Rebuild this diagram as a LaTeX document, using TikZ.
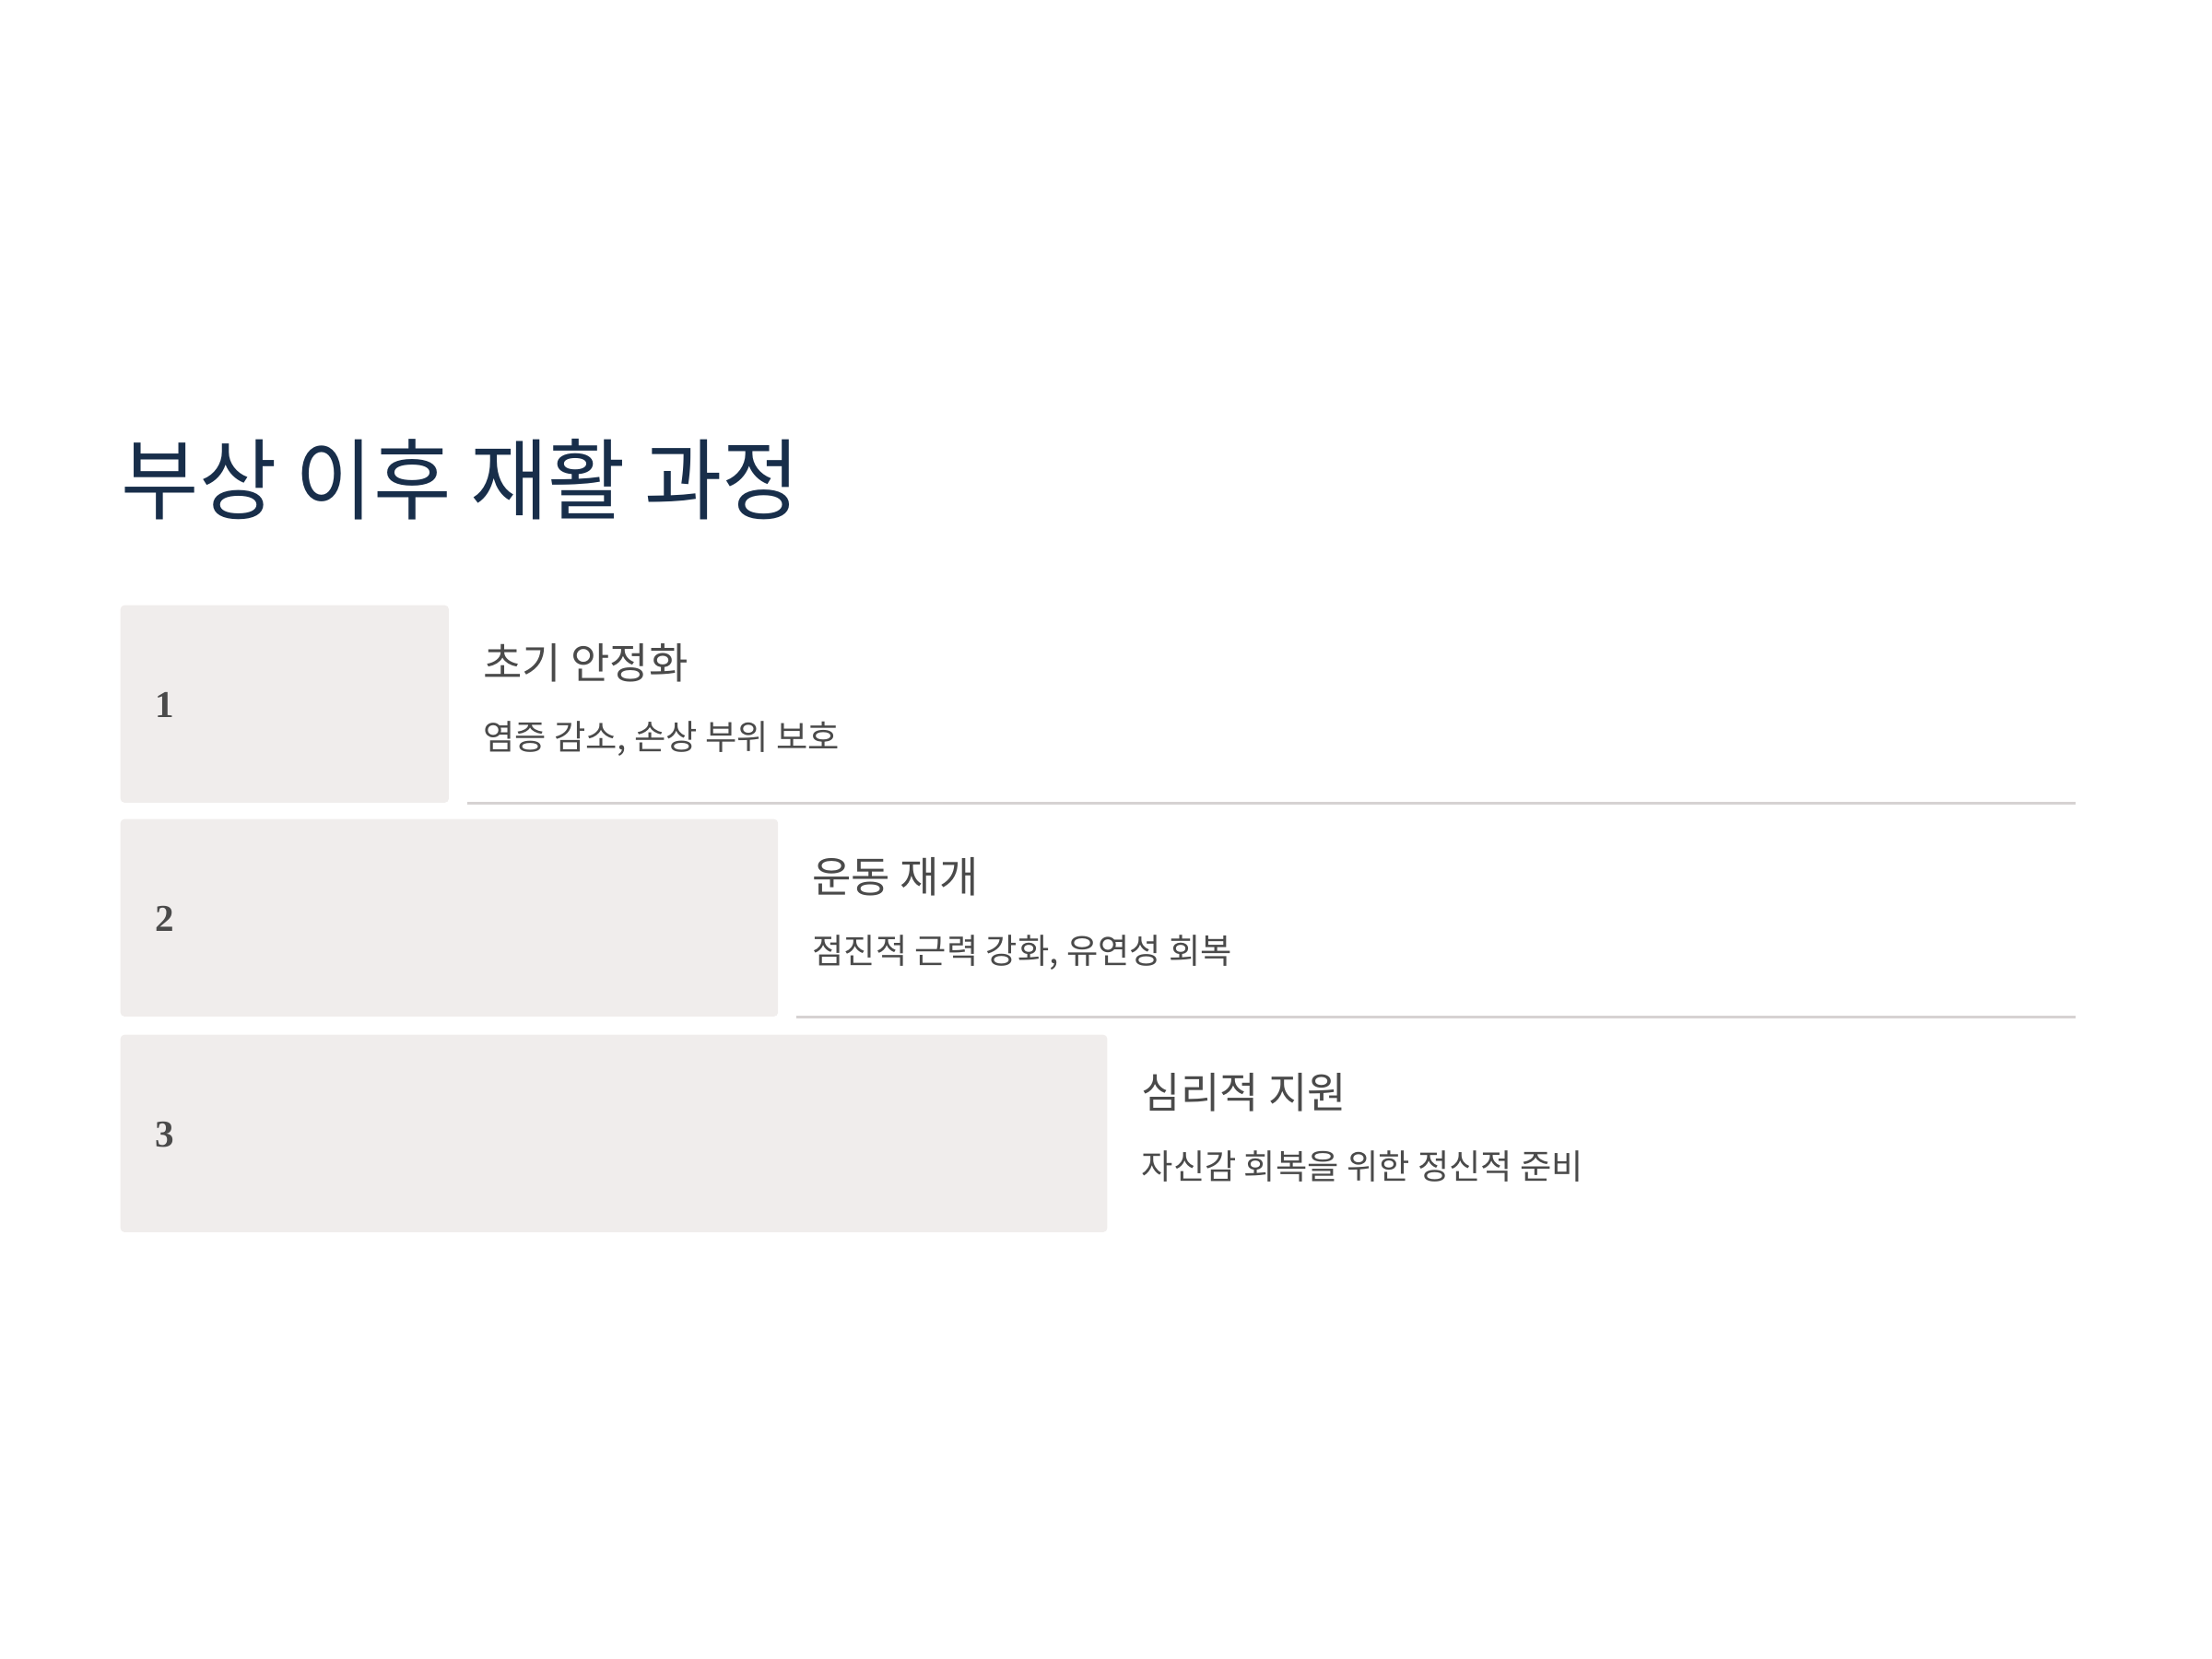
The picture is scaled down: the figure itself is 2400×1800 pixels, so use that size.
\documentclass[tikz,border=0pt]{standalone}
\usepackage{fontspec}
\newfontfamily\krfont{Noto Sans CJK KR}
\newfontfamily\krtitle[FakeStretch=0.955]{Noto Sans CJK KR}
\newfontfamily\numfont{Liberation Serif}
\definecolor{rehab_navy}{RGB}{24, 46, 74}
\definecolor{rehab_text}{RGB}{74, 74, 74}
\definecolor{rehab_box}{RGB}{240, 237, 236}
\definecolor{rehab_rule}{RGB}{214, 210, 210}
\usetikzlibrary{positioning, calc}

\begin{document}
\begin{tikzpicture}[x=0.01cm, y=-0.01cm,
    stepbox/.style={fill=rehab_box, rounded corners=1.2pt, inner sep=0,
      anchor=north west, minimum height=2.14cm},
    steplabel/.style={font=\numfont\bfseries\fontsize{11.7}{13}\selectfont,
      color=rehab_text, inner sep=0, anchor=base west},
    stephead/.style={font=\krfont\fontsize{13.1}{15}\selectfont,
      color=rehab_text, inner sep=0, anchor=base west},
    stepdesc/.style={font=\krfont\fontsize{10.6}{12}\selectfont,
      color=rehab_text, inner sep=0, anchor=base west},
    steprule/.style={draw=rehab_rule, line width=0.6pt}]
        \useasboundingbox (0,0) rectangle (2400,1800);

        % --- Title ---
        \node[font=\krtitle\fontsize{27.3}{30}\selectfont, color=rehab_navy,
              inner sep=0, anchor=base west] (title) at (131,556)
              {부상 이후 재활 과정};

        % --- Steps ---
        \foreach \n/\top/\w/\head/\desc in {
            1/656/3.56/{초기 안정화}/{염증 감소, 손상 부위 보호},
            2/888/7.13/{운동 재개}/{점진적 근력 강화, 유연성 회복},
            3/1122/10.70/{심리적 지원}/{자신감 회복을 위한 정신적 준비}} {
          \node[stepbox, minimum width=\w cm] (box\n) at (130,\top) {};
          \node[steplabel] (num\n) at ($(box\n.north west)+(38,122)$) {\n};
          \node[stephead] (head\n) at ($(box\n.north east)+(36,80)$) {\head};
          \node[stepdesc] (desc\n) at ($(box\n.north east)+(36,157)$) {\desc};
        }

        % --- Rules under steps 1 and 2 ---
        \foreach \n in {1,2} {
          \coordinate (ruleend\n) at (2252, 0 |- box\n.south);
          \draw[steprule] ($(box\n.south east)+(19,0)$) -- (ruleend\n);
        }
      \end{tikzpicture}
\end{document}
